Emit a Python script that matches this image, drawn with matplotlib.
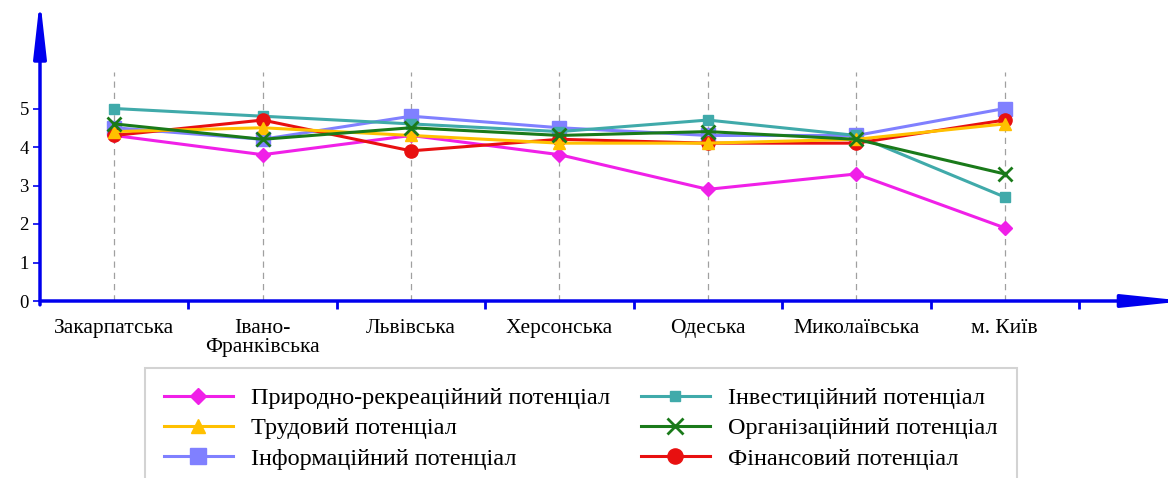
import matplotlib
matplotlib.use("Agg")
import matplotlib.pyplot as plt
import numpy as np

plt.rcParams['font.family'] = ['Liberation Serif', 'DejaVu Serif']

# області
regions = ['Закарпатська', 'Івано-\nФранківська', 'Львівська', 'Херсонська',
           'Одеська', 'Миколаївська', 'м. Київ']

# оцінки потенціалів
pryrodno = [4.3, 3.8, 4.3, 3.8, 2.9, 3.3, 1.9]
trudovyi = [4.4, 4.5, 4.3, 4.1, 4.1, 4.2, 4.6]
informats = [4.5, 4.2, 4.8, 4.5, 4.3, 4.3, 5.0]
investyts = [5.0, 4.8, 4.6, 4.4, 4.7, 4.3, 2.7]
orhaniz = [4.6, 4.2, 4.5, 4.3, 4.4, 4.2, 3.3]
finansovyi = [4.3, 4.7, 3.9, 4.2, 4.1, 4.1, 4.7]

fig = plt.figure(figsize=(11.68, 4.78), dpi=100)
ax = fig.add_axes([40 / 1168, 177 / 478, 1128 / 1168, 301 / 478])

x = np.arange(len(regions))

# пунктирні вертикальні лінії
ax.vlines(x, 0, 5.95, colors='#a0a0a0', linestyles=(0, (5, 4)), linewidth=0.9, zorder=1)

ax.plot(x, informats, color='#8080ff', lw=2.2, marker='s', ms=10, label='Інформаційний потенціал', zorder=3)
ax.plot(x, investyts, color='#40aaaa', lw=2.2, marker='s', ms=6.5, label='Інвестиційний потенціал', zorder=3)
ax.plot(x, pryrodno, color='#f020e8', lw=2.2, marker='D', ms=7, label='Природно-рекреаційний потенціал', zorder=3)
ax.plot(x, finansovyi, color='#e81010', lw=2.2, marker='o', ms=9.5, label='Фінансовий потенціал', zorder=3)
ax.plot(x, trudovyi, color='#ffc000', lw=2.2, marker='^', ms=8.5, label='Трудовий потенціал', zorder=4)
ax.plot(x, orhaniz, color='#1a7a1a', lw=2.2, marker='x', ms=10, mew=2, label='Організаційний потенціал', zorder=5)

ax.set_xlim(-0.5, 7.1)
ax.set_ylim(0, 301 / 38.5)

for s in ['top', 'right', 'left', 'bottom']:
    ax.spines[s].set_visible(False)

# осі зі стрілками
ax.annotate('', xy=(7.22, 0), xytext=(-0.5, 0),
            arrowprops=dict(arrowstyle='-|>,head_length=2.6,head_width=0.27', color='#0000ee',
                            lw=2.5, shrinkA=0, shrinkB=0, mutation_scale=14), annotation_clip=False)
ax.annotate('', xy=(-0.5, 7.85), xytext=(-0.5, -0.1),
            arrowprops=dict(arrowstyle='-|>,head_length=2.4,head_width=0.27', color='#0000ee',
                            lw=2.5, shrinkA=0, shrinkB=0, mutation_scale=14), annotation_clip=False)

ax.set_yticks(range(6))
ax.tick_params(axis='y', direction='out', length=5, width=1.2, color='#0000ee',
               labelsize=13.5, pad=3)

ax.set_xticks(x)
ax.set_xticklabels(regions, fontsize=15.5, linespacing=1.0)
ax.tick_params(axis='x', length=0, pad=13)
ax.set_xticks(np.arange(0.5, 7.0, 1.0), minor=True)
ax.tick_params(axis='x', which='minor', direction='out', length=6, width=2, color='#0000ee')

# легенда
order = ['Природно-рекреаційний потенціал', 'Трудовий потенціал', 'Інформаційний потенціал',
         'Інвестиційний потенціал', 'Організаційний потенціал', 'Фінансовий потенціал']
h, l = ax.get_legend_handles_labels()
hm = dict(zip(l, h))
leg = fig.legend([hm[k] for k in order], order, ncol=2, loc='upper left',
                 bbox_to_anchor=(145 / 1168, 1 - 368 / 478), borderaxespad=0, fontsize=17.5,
                 frameon=True, fancybox=False, edgecolor='#c8c8c8', borderpad=0.8,
                 handlelength=2.8, columnspacing=1.3, labelspacing=0.33, handletextpad=0.75,
                 markerscale=1.15)
leg.get_frame().set_linewidth(1.5)

fig.savefig('out.png', dpi=100)
